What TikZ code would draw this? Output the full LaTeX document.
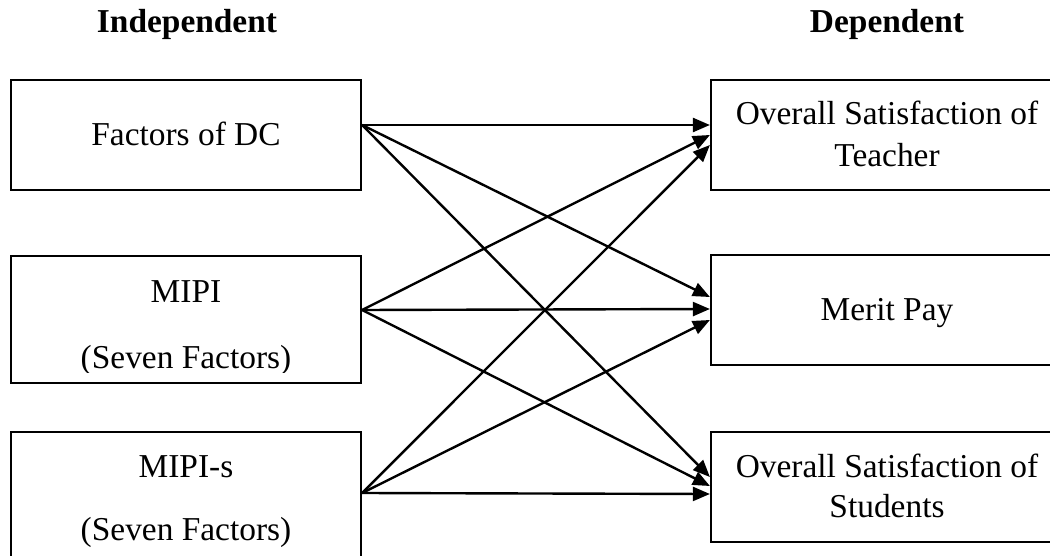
\documentclass[tikz,border=0pt]{standalone}
\usepackage{fontspec}
\setmainfont{Liberation Serif}
\usetikzlibrary{arrows.meta}
\begin{document}
\begin{tikzpicture}[x=1pt,y=-1pt,
  box/.style={draw=black,line width=2.2pt,rectangle,inner sep=0pt,minimum width=#1},
  box/.default=350pt,
  txt/.style={anchor=base,inner sep=0pt,font=\fontsize{33.4pt}{40pt}\selectfont},
  ttl/.style={txt,font=\fontsize{33.4pt}{40pt}\selectfont\bfseries},
  link/.style={line width=2.4pt,-{Triangle[length=17pt,width=14pt]}}]
\fill[white] (0,0) rectangle (1050,556);
\useasboundingbox (0,0) rectangle (1050,556);
% titles
\node[ttl] (tind) at (187,33) {Independent};
\node[ttl] (tdep) at (887,33) {Dependent};
% left boxes
\node[box,minimum height=110pt] (b1) at (186,135) {};
\node[box,minimum height=127pt] (b2) at (186,319.5) {};
\node[box,minimum height=127pt] (b3) at (186,495.5) {};
% right boxes
\node[box=349pt,minimum height=110pt] (r1) at (885.5,135) {};
\node[box=349pt,minimum height=110pt] (r2) at (885.5,310) {};
\node[box=349pt,minimum height=110pt] (r3) at (885.5,487) {};
% left texts
\node[txt] (l1) at (186,146) {Factors of DC};
\node[txt] (l2a) at (186,302) {MIPI};
\begin{scope}
\clip (11,256) rectangle (361,372);
\node[txt] (l2b) at (186,368) {(Seven Factors)};
\end{scope}
\node[txt] (l3a) at (186,477) {MIPI-s};
\node[txt] (l3b) at (186,540) {(Seven Factors)};
% right texts
\node[txt] (r1a) at (887,125) {Overall Satisfaction of};
\node[txt] (r1b) at (887,167) {Teacher};
\node[txt] (r2a) at (887,320) {Merit Pay};
\node[txt] (r3a) at (887,477) {Overall Satisfaction of};
\node[txt] (r3b) at (887,517) {Students};
% connectors
\draw[link] ([yshift=10pt]b1.east) -- ([yshift=10pt]r1.west);
\draw[link] ([yshift=10pt]b1.east) -- ([yshift=13pt]r2.west);
\draw[link] ([yshift=10pt]b1.east) -- ([yshift=10pt]r3.west);
\draw[link] ([yshift=9.5pt]b2.east) -- ([yshift=0pt]r1.west);
\draw[link] ([yshift=9.5pt]b2.east) -- ([yshift=1pt]r2.west);
\draw[link] ([yshift=9.5pt]b2.east) -- ([yshift=1pt]r3.west);
\draw[link] ([yshift=2.5pt]b3.east) -- ([yshift=-10pt]r1.west);
\draw[link] ([yshift=2.5pt]b3.east) -- ([yshift=-10pt]r2.west);
\draw[link] ([yshift=2.5pt]b3.east) -- ([yshift=-7pt]r3.west);
\end{tikzpicture}
\end{document}
